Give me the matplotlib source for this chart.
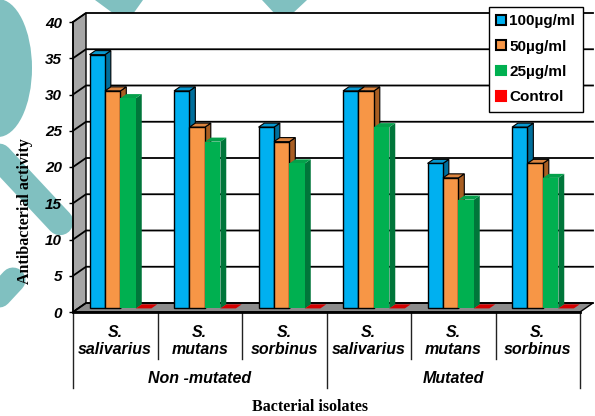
import numpy as np
import matplotlib
matplotlib.use("Agg")
import matplotlib.pyplot as plt
from matplotlib.patches import Polygon, Patch, Ellipse
from matplotlib.transforms import Affine2D, IdentityTransform
from matplotlib.font_manager import FontProperties

species = ["S.\nsalivarius", "S.\nmutans", "S.\nsorbinus"] * 2
groups = ["Non -mutated", "Mutated"]
doses = ["100µg/ml", "50µg/ml", "25µg/ml", "Control"]
act_100 = [35, 30, 25, 30, 20, 25]
act_50 = [30, 25, 23, 30, 18, 20]
act_25 = [29, 23, 20, 25, 15, 18]
act_ctrl = [0, 0, 0, 0, 0, 0]
yticks = np.arange(0, 45, 5)

front = ["#00b0f0", "#f79646", "#00b050", "#ff0000"]
top = ["#0898d0", "#dc8540", "#04a04a", "#d40000"]
side = ["#006f9c", "#a95e22", "#00763a", "#900000"]
edge = ["black", "black", "none", "none"]

DX, DY = 13, 9        # pixel shift from front plane to back wall
D0, D1 = 0.4, 0.85    # depth of bar front and back faces
W = 0.183             # bar width in category units

fig = plt.figure(figsize=(5.95, 4.16), dpi=100)

# watermark shapes behind the chart
wm = fig.add_axes([0, 0, 1, 1], zorder=-1)
wm.set_xlim(0, 595)
wm.set_ylim(416, 0)
wm.axis("off")
teal = "#80c0c0"
wm.add_patch(Ellipse((-2, 68), 68, 138, color=teal, lw=0))
wm.plot([-40, 60], [115, 222], color=teal, lw=19, solid_capstyle="round")
wm.plot([13, -40], [280, 337], color=teal, lw=18, solid_capstyle="round")
wm.add_patch(Polygon([(95, 0), (143, 0), (133, 14), (114, 14)], color=teal, lw=0))
wm.add_patch(Polygon([(262, 0), (307, 0), (292, 14), (275, 14)], color=teal, lw=0))

ax = fig.add_axes([73 / 595, 104 / 416, 507 / 595, 290 / 416])
ax.patch.set_visible(False)
ax.set_xlim(-0.5, 5.5)
ax.set_ylim(0, 40)
ax.set_autoscale_on(False)


def P(x, v, d):
    X, Y = ax.transData.transform((x, v))
    return (X + d * DX, Y + d * DY)


def poly(pts, **kw):
    ax.add_patch(Polygon(pts, closed=True, transform=IdentityTransform(),
                         clip_on=False, **kw))


x0, x1 = -0.5, 5.5
# back wall, left wall, floor
poly([P(x0, 0, 1), P(x1, 0, 1), P(x1, 40, 1), P(x0, 40, 1)], fc="white", ec="none", zorder=1)
poly([P(x0, 0, 0), P(x0, 0, 1), P(x0, 40, 1), P(x0, 40, 0)], fc="#a6a6a6", ec="black", lw=1, zorder=1)
poly([P(x0, 0, 0), P(x1, 0, 0), P(x1, 0, 1), P(x0, 0, 1)], fc="#8c8c8c", ec="black", lw=1, zorder=1)
for v in yticks:
    a, b, c = P(x0, v, 0), P(x0, v, 1), P(x1, v, 1)
    ax.plot([a[0], b[0], c[0]], [a[1], b[1], c[1]], color="black", lw=1.3,
            transform=IdentityTransform(), clip_on=False, zorder=2)

# 3d columns
bar_tr = ax.transData + Affine2D().translate(D0 * DX, D0 * DY)
xcat = np.arange(len(species))
for j, vals in enumerate([act_100, act_50, act_25, act_ctrl]):
    lefts = xcat - 0.5 + 0.134 + j * W
    for l, v in zip(lefts, vals):
        if v > 0:
            poly([P(l + W, 0, D0), P(l + W, v, D0), P(l + W, v, D1), P(l + W, 0, D1)],
                 fc=side[j], ec=edge[j], lw=0.8, zorder=3)
        poly([P(l, v, D0), P(l + W, v, D0), P(l + W, v, D1), P(l, v, D1)],
             fc=top[j], ec=edge[j], lw=0.8, zorder=3)
    ax.bar(lefts, vals, width=W, align="edge", color=front[j], edgecolor=edge[j],
           lw=1, transform=bar_tr, zorder=3, clip_on=False)

ax.plot([x0, x1], [0, 0], color="black", lw=2, clip_on=False, zorder=5)

# axes styling
ax.set_xticks([])
ax.set_yticks(yticks)
ax.set_yticklabels([str(v) for v in yticks], family="Liberation Sans",
                   weight="bold", style="italic", size=11)
ax.tick_params(axis="y", direction="out", length=3, width=1, pad=5)
for s in ["top", "right", "bottom"]:
    ax.spines[s].set_visible(False)
ax.spines["left"].set_linewidth(1.2)

# two-level category labels
xt = ax.get_xaxis_transform()
for k, lab in enumerate(species):
    ax.text(k, -0.1, lab, transform=xt, ha="center", va="center", family="Liberation Sans",
            weight="bold", style="italic", size=11.5, linespacing=1.1)
for g, lab in enumerate(groups):
    ax.text(1 + 3 * g, -0.228, lab, transform=xt, ha="center", va="center",
            family="Liberation Sans", weight="bold", style="italic", size=11.5)
for b in [0.5, 1.5, 3.5, 4.5]:
    ax.plot([b, b], [0, -0.162], transform=xt, color="#222222", lw=1, clip_on=False)
for b in [-0.5, 2.5, 5.5]:
    ax.plot([b, b], [0, -0.262], transform=xt, color="#222222", lw=1, clip_on=False)

handles = [Patch(facecolor=front[j], edgecolor=edge[j] if edge[j] != "none" else front[j],
                 lw=1.5, label=doses[j]) for j in range(4)]
leg = ax.legend(handles=handles, loc="upper left", bbox_to_anchor=(489 / 595, 1 - 7 / 416),
                bbox_transform=fig.transFigure, borderaxespad=0, fancybox=False,
                framealpha=1, edgecolor="black", handlelength=0.6, handleheight=0.6,
                handletextpad=0.25, labelspacing=0.74, borderpad=0.48,
                prop=FontProperties(family="Liberation Sans", weight="bold", size=11))
leg.set_zorder(10)
leg.get_frame().set_linewidth(1)

fig.text(25 / 595, 1 - 211 / 416, "Antibacterial activity", rotation=90, ha="center",
         va="center", family="Liberation Serif", weight="bold", size=11.5)
fig.text(310 / 595, 1 - 407 / 416, "Bacterial isolates", ha="center", va="center",
         family="Liberation Serif", weight="bold", size=11.5)

fig.savefig("out.png", dpi=100)
